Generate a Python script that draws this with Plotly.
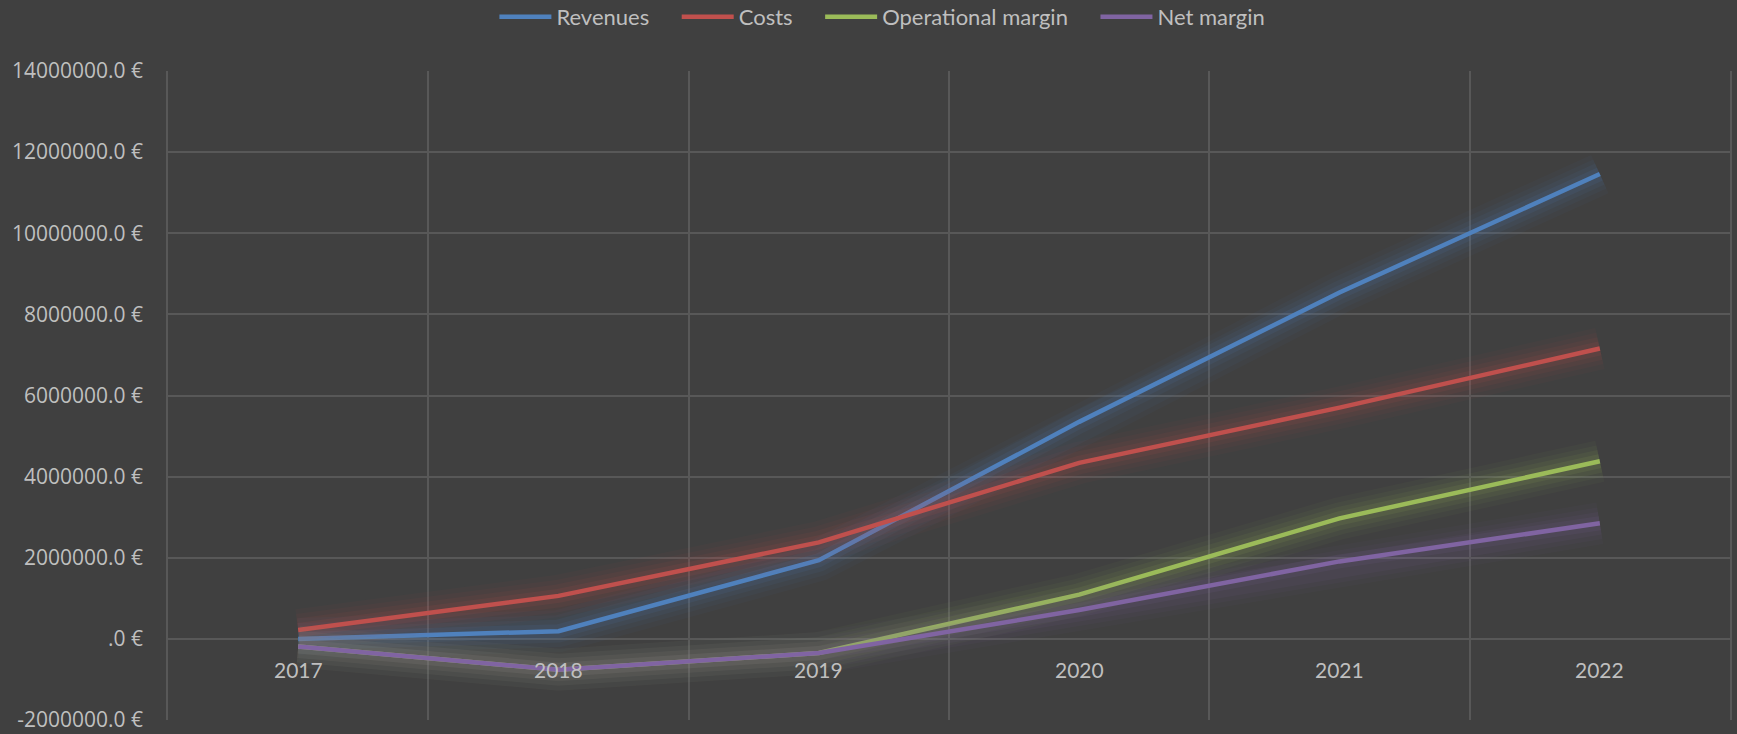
import plotly.graph_objects as go

years = ["2017", "2018", "2019", "2020", "2021", "2022"]
revenues = [0.0, 190000, 1940000, 5350000, 8540000, 11460000]
costs = [220000, 1060000, 2380000, 4340000, 5700000, 7160000]
operational_margin = [-190000, -760000, -350000, 1090000, 2970000, 4380000]
net_margin = [-190000, -760000, -350000, 710000, 1910000, 2850000]

series_names = ["Revenues", "Costs", "Operational margin", "Net margin"]
series_values = [revenues, costs, operational_margin, net_margin]
series_colors = ["#4F81BD", "#C0504D", "#9BBB59", "#8064A2"]

y_tickvals = [-2000000, 0, 2000000, 4000000, 6000000, 8000000, 10000000, 12000000, 14000000]
y_ticktext = ["-2000000.0 €", ".0 €", "2000000.0 €", "4000000.0 €", "6000000.0 €",
              "8000000.0 €", "10000000.0 €", "12000000.0 €", "14000000.0 €"]

BG = "#404040"
GRID = "#585858"
TEXT = "#BFBFBF"
PAD = "\u00a0" * 4

fig = go.Figure()

for name, vals, col in zip(series_names, series_values, series_colors):
    # soft glow
    for w, op in [(42, 0.04), (32, 0.05), (23, 0.07), (14, 0.1)]:
        fig.add_trace(go.Scatter(x=years, y=vals, mode="lines",
                                 line=dict(color=col, width=w),
                                 opacity=op, showlegend=False, hoverinfo="skip"))
    fig.add_trace(go.Scatter(x=years, y=vals, mode="lines",
                             name=name + (PAD if name != series_names[-1] else ""),
                             line=dict(color=col, width=4.5)))

for i, yr in enumerate(years):
    fig.add_annotation(x=i, y=0, xref="x", yref="y", text=yr, showarrow=False,
                       yshift=-31, yanchor="middle",
                       font=dict(family="Lato", size=21, color=TEXT))

fig.update_layout(
    width=1737, height=734,
    paper_bgcolor=BG, plot_bgcolor=BG,
    margin=dict(l=168, r=7, t=71, b=14, autoexpand=False),
    showlegend=True,
    legend=dict(orientation="h", xref="container", yref="container",
                x=0.508, xanchor="center", y=0.977, yanchor="middle",
                font=dict(family="Lato", size=22, color=TEXT), itemwidth=52,
                bgcolor="rgba(0,0,0,0)", traceorder="normal"),
    font=dict(family="Open Sans", color=TEXT),
)

fig.update_xaxes(type="category", tickson="boundaries", showgrid=True, gridcolor=GRID,
                 gridwidth=1.5, showticklabels=False, ticks="", zeroline=False,
                 showline=False, range=[-0.5, 5.5], automargin=False)
fig.update_yaxes(range=[-2000000, 14000000], tickvals=y_tickvals, ticktext=y_ticktext,
                 showgrid=True, gridcolor=GRID, gridwidth=1.5, zeroline=False,
                 showline=True, mirror=True, linecolor=GRID, linewidth=1.5,
                 ticks="", ticklabelstandoff=19, automargin=False,
                 tickfont=dict(family="Open Sans", size=21, color=TEXT))

fig.write_html("out.html")
